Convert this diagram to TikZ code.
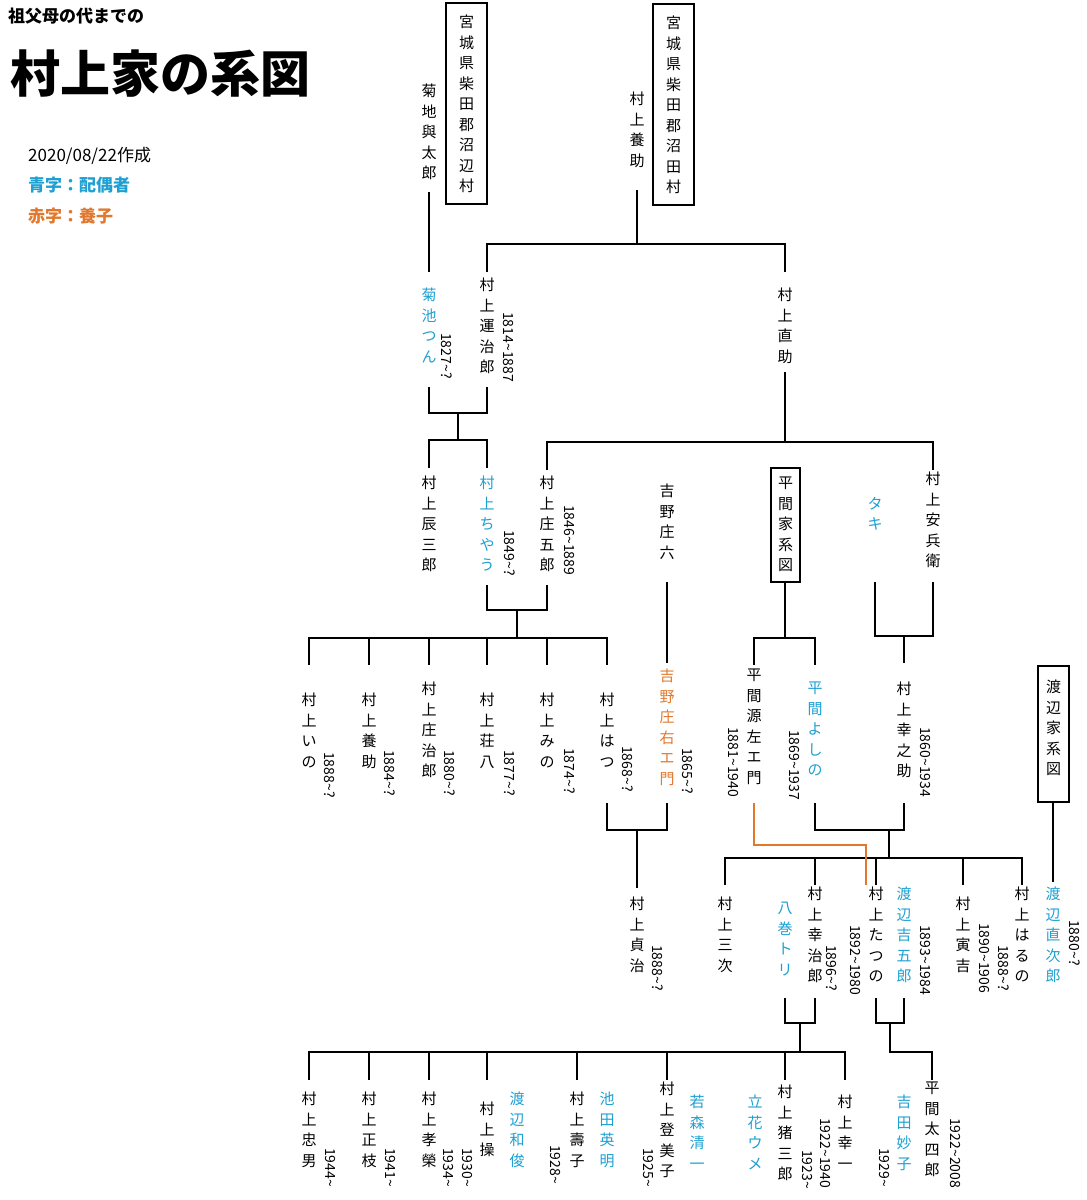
\documentclass[tikz,border=0pt]{standalone}
\usepackage{fontspec}
\setmainfont{Noto Sans CJK JP}
\definecolor{bl}{RGB}{30,160,210}
\definecolor{og}{RGB}{225,120,45}
\makeatletter
\newcommand\VT[1]{\vbox{\baselineskip=20.5pt\@tfor\ch:=#1\do{\hbox to 16pt{\hss\ch\hss}}}}
\makeatother
\tikzset{
  nm/.style={anchor=north,inner sep=0pt,font=\fontsize{15}{15}\selectfont},
  yr/.style={rotate=-90,anchor=west,inner sep=0pt,font=\fontsize{14}{14}\selectfont},
  bx/.style={draw,line width=1.3pt,minimum width=#1,inner sep=0pt},
  ln/.style={line width=2.4pt},
}
\newcommand\N[5][black]{\node[nm,text=#1] (#2) at (#3,#4) {\VT{#5}};}
\newcommand\Y[4]{\node[yr] (#1) at (#2,#3) {#4};}
\begin{document}
\begin{tikzpicture}[x=1pt,y=-1pt]
\useasboundingbox[fill=white] (0,0) rectangle (1087,1200);
% titles
\node[anchor=north west,inner sep=0pt,font=\fontsize{17}{17}\selectfont\bfseries] (t1) at (8,8) {祖父母の代までの};
\node[anchor=north west,inner sep=0pt,font=\fontsize{50}{50}\selectfont\bfseries] (t2) at (10,50) {村上家の系図};
\node[anchor=north west,inner sep=0pt,font=\fontsize{17}{17}\selectfont] (t3) at (28,147) {2020/08/22作成};
\node[anchor=north west,inner sep=0pt,font=\fontsize{17}{17}\selectfont\bfseries,text=bl] (t4) at (28,177) {青字：配偶者};
\node[anchor=north west,inner sep=0pt,font=\fontsize{17}{17}\selectfont\bfseries,text=og] (t5) at (28,208) {赤字：養子};
% boxes
\draw[line width=1.3pt] (446,3) rectangle (487,204);
\N{b1}{466.5}{15}{宮城県柴田郡沼辺村}
\draw[line width=1.3pt] (653,4) rectangle (694,205);
\N{b2}{673.5}{16}{宮城県柴田郡沼田村}
\draw[line width=2.2pt] (771,468) rectangle (800,582);
\N{b3}{785.5}{477}{平間家系図}
\draw[line width=2.2pt] (1038,666) rectangle (1069,802);
\N{b4}{1053.5}{680}{渡辺家系図}
% gen 1
\N{yotaro}{429}{84}{菊地與太郎}
\N{yosuke}{637}{92}{村上養助}
\N[bl]{tsun}{429}{288}{菊池つん} \Y{y1}{447}{333}{1827\string~?}
\N{unji}{487}{278}{村上運治郎} \Y{y2}{508}{312}{1814\string~1887}
\N{naosuke}{785}{288}{村上直助}
% gen 3
\N{tatsu}{429}{476}{村上辰三郎}
\N[bl]{chiyau}{487}{476}{村上ちやう} \Y{y3}{510}{530}{1849\string~?}
\N{shogoro}{547}{476}{村上庄五郎} \Y{y4}{569}{505}{1846\string~1889}
\N{shoroku}{667}{484}{吉野庄六}
\N[bl]{taki}{875}{497}{タキ}
\N{yasu}{933}{472}{村上安兵衛}
% gen 4
\N{ino}{309}{693}{村上いの} \Y{y5}{330}{752}{1888\string~?}
\N{yosuke2}{369}{693}{村上養助} \Y{y6}{390}{750}{1884\string~?}
\N{shoji}{429}{682}{村上庄治郎} \Y{y7}{450}{750}{1880\string~?}
\N{sohachi}{487}{693}{村上荘八} \Y{y8}{510}{750}{1877\string~?}
\N{mino}{547}{693}{村上みの} \Y{y9}{570}{748}{1874\string~?}
\N{hatsu}{607}{693}{村上はつ} \Y{y10}{628}{746}{1868\string~?}
\N[og]{shoemon}{667}{669}{吉野庄右エ門} \Y{y11}{688}{748}{1865\string~?}
\N{genzaemon}{754}{669}{平間源左エ門} \Y{y12}{733}{727}{1881\string~1940}
\N[bl]{yoshino}{815}{682}{平間よしの} \Y{y13}{794}{730}{1869\string~1937}
\N{konosuke}{904}{682}{村上幸之助} \Y{y14}{925}{727}{1860\string~1934}
% gen 5
\N{sadaji}{637}{897}{村上貞治} \Y{y15}{658}{945}{1888\string~?}
\N{sanji}{725}{897}{村上三次}
\N[bl]{tori}{785}{902}{八巻トリ}
\N{koji}{815}{887}{村上幸治郎} \Y{y16}{832}{945}{1896\string~?}
\N{tatsuno}{876}{887}{村上たつの} \Y{y17}{855}{925}{1892\string~1980}
\N[bl]{kichigoro}{904}{887}{渡辺吉五郎} \Y{y18}{925}{925}{1893\string~1984}
\N{torakichi}{963}{897}{村上寅吉} \Y{y19}{984}{923}{1890\string~1906}
\N{haruno}{1022}{887}{村上はるの} \Y{y20}{1004}{945}{1888\string~?}
\N[bl]{naojiro}{1053}{887}{渡辺直次郎} \Y{y21}{1075}{920}{1880\string~?}
% gen 6
\N{tadao}{309}{1092}{村上忠男} \Y{y22}{330}{1148}{1944\string~}
\N{masae}{369}{1092}{村上正枝} \Y{y23}{390}{1148}{1941\string~}
\N{koei}{429}{1092}{村上孝榮} \Y{y24}{448}{1148}{1934\string~}
\N{misao}{487}{1102}{村上操} \Y{y25}{467}{1148}{1930\string~}
\N[bl]{kazutoshi}{517}{1092}{渡辺和俊}
\N{toshiko}{577}{1092}{村上壽子} \Y{y26}{555}{1145}{1928\string~}
\N[bl]{hideaki}{607}{1092}{池田英明}
\N{tomiko}{667}{1082}{村上登美子} \Y{y27}{648}{1148}{1925\string~}
\N[bl]{seiichi}{697}{1095}{若森清一}
\N[bl]{ume}{755}{1095}{立花ウメ}
\N{isaburo}{785}{1085}{村上猪三郎} \Y{y28}{807}{1150}{1923\string~}
\N{koichi}{845}{1095}{村上幸一} \Y{y29}{825}{1118}{1922\string~1940}
\N[bl]{taeko}{904}{1095}{吉田妙子} \Y{y30}{884}{1148}{1929\string~}
\N{tashiro}{932}{1082}{平間太四郎} \Y{y31}{955}{1118}{1922\string~2008}
% connectors
\draw[ln] (429,192) -- (429,272);
\draw[ln] (637,190) -- (637,244);
\draw[ln] (487,272) -- (487,244) -- (785,244) -- (785,272);
\draw[ln] (429,387) -- (429,413) -- (487,413) -- (487,387);
\draw[ln] (458,413) -- (458,440);
\draw[ln] (429,468) -- (429,440) -- (487,440) -- (487,468);
\draw[ln] (785,372) -- (785,442);
\draw[ln] (547,470) -- (547,442) -- (933,442) -- (933,470);
\draw[ln] (667,582) -- (667,663);
\draw[ln] (785,582) -- (785,638);
\draw[ln] (754,665) -- (754,638) -- (815,638) -- (815,665);
\draw[ln] (875,582) -- (875,636) -- (933,636) -- (933,582);
\draw[ln] (904,636) -- (904,663);
\draw[ln] (487,585) -- (487,610) -- (547,610) -- (547,585);
\draw[ln] (517,610) -- (517,638);
\draw[ln] (309,665) -- (309,638) -- (607,638) -- (607,665);
\foreach \x in {369,429,487,547} \draw[ln] (\x,638) -- (\x,665);
\draw[ln] (607,803) -- (607,830) -- (667,830) -- (667,803);
\draw[ln] (637,830) -- (637,888);
\draw[ln] (815,803) -- (815,830) -- (904,830) -- (904,803);
\draw[ln] (889,830) -- (889,858);
\draw[ln] (725,885) -- (725,858) -- (1022,858) -- (1022,885);
\foreach \x in {815,876,963} \draw[ln] (\x,858) -- (\x,885);
\draw[og,line width=2pt] (754,803) -- (754,845) -- (866,845) -- (866,885);
\draw[ln] (1053,802) -- (1053,882);
\draw[ln] (785,998) -- (785,1023) -- (815,1023) -- (815,998);
\draw[ln] (800,1023) -- (800,1052);
\draw[ln] (309,1080) -- (309,1052) -- (845,1052) -- (845,1080);
\foreach \x in {369,429,487,577,667,785} \draw[ln] (\x,1052) -- (\x,1080);
\draw[ln] (876,998) -- (876,1023) -- (904,1023) -- (904,998);
\draw[ln] (890,1023) -- (890,1052) -- (932,1052) -- (932,1080);
\end{tikzpicture}
\end{document}
